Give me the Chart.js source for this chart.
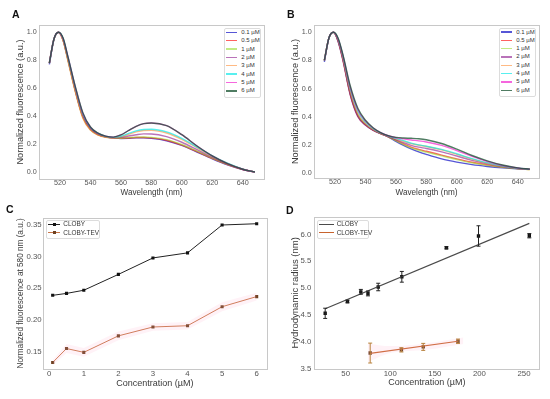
<!DOCTYPE html>
<html>
<head>
<meta charset="utf-8">
<script src="https://cdn.jsdelivr.net/npm/chart.js@4.4.0/dist/chart.umd.min.js"></script>
<style>
body { margin: 0; background: #fff; width: 550px; height: 399px; overflow: hidden; position: relative; font-family: 'Liberation Sans', Arial, sans-serif; }
canvas { position: absolute; }
.lab { position: absolute; font-weight: bold; font-size: 10.5px; line-height: 10px; color: #111; }
.leg { position: absolute; background: #fff; border: 1px solid #dcdcdc; border-radius: 2px; box-sizing: border-box; }
</style>
</head>
<body>
<canvas id="cA" width="275" height="200" style="left:0;top:0"></canvas>
<canvas id="cB" width="275" height="200" style="left:275px;top:0"></canvas>
<canvas id="cC" width="275" height="204" style="left:0;top:195px"></canvas>
<canvas id="cD" width="275" height="204" style="left:275px;top:195px"></canvas>
<div class="lab" style="left:12px;top:8.8px">A</div>
<div class="lab" style="left:287px;top:8.8px">B</div>
<div class="lab" style="left:6px;top:203.8px">C</div>
<div class="lab" style="left:286px;top:204.8px">D</div>
<script>
const F = "'Liberation Sans', Arial, sans-serif";

// ---- panels A and B : normalised emission spectra
const wavelengths = [513, 516, 519, 522, 525, 530, 535, 540, 545, 550, 555, 560, 565, 570, 575, 580, 590, 600, 610, 620, 630, 640, 648];
const concLabels = ['0.1 µM', '0.5 µM', '1 µM', '2 µM', '3 µM', '4 µM', '5 µM', '6 µM'];
const concColors = ['rgba(30,30,200,0.75)', 'rgba(255,30,30,0.7)', 'rgba(154,220,50,0.6)', 'rgba(128,0,128,0.55)',
                    'rgba(255,140,50,0.6)', 'rgba(0,230,230,0.65)', 'rgba(240,0,200,0.6)', 'rgba(20,80,45,0.75)'];

// A : CLOBY
const specA_01 = [0.77, 0.95, 1.00, 0.945, 0.815, 0.585, 0.395, 0.305, 0.268, 0.251, 0.244, 0.240, 0.241, 0.244, 0.244, 0.241, 0.224, 0.190, 0.143, 0.095, 0.052, 0.018, 0.0];
const specA_05 = [0.78, 0.95, 1.00, 0.945, 0.815, 0.585, 0.395, 0.305, 0.268, 0.251, 0.244, 0.241, 0.243, 0.247, 0.247, 0.244, 0.227, 0.193, 0.146, 0.097, 0.053, 0.018, 0.0];
const specA_1  = [0.78, 0.95, 1.00, 0.945, 0.810, 0.580, 0.390, 0.302, 0.266, 0.250, 0.244, 0.242, 0.246, 0.250, 0.251, 0.248, 0.232, 0.197, 0.149, 0.099, 0.054, 0.019, 0.0];
const specA_2  = [0.78, 0.95, 1.00, 0.950, 0.820, 0.590, 0.400, 0.308, 0.270, 0.252, 0.246, 0.248, 0.258, 0.267, 0.273, 0.272, 0.253, 0.213, 0.160, 0.106, 0.058, 0.020, 0.0];
const specA_3  = [0.78, 0.95, 1.00, 0.940, 0.805, 0.575, 0.385, 0.300, 0.264, 0.249, 0.245, 0.252, 0.270, 0.287, 0.297, 0.298, 0.279, 0.234, 0.173, 0.113, 0.061, 0.021, 0.0];
const specA_4  = [0.78, 0.95, 1.00, 0.955, 0.830, 0.605, 0.415, 0.318, 0.276, 0.255, 0.248, 0.256, 0.276, 0.294, 0.304, 0.306, 0.287, 0.241, 0.178, 0.116, 0.063, 0.021, 0.0];
const specA_5  = [0.78, 0.95, 1.00, 0.955, 0.835, 0.610, 0.420, 0.320, 0.277, 0.257, 0.250, 0.265, 0.297, 0.327, 0.346, 0.351, 0.332, 0.267, 0.186, 0.115, 0.060, 0.020, 0.0];
const specA_6  = [0.78, 0.95, 1.00, 0.960, 0.835, 0.615, 0.425, 0.322, 0.278, 0.257, 0.250, 0.265, 0.297, 0.327, 0.346, 0.351, 0.332, 0.267, 0.186, 0.115, 0.060, 0.020, 0.0];

// B : CLOBY-TEV
const specB_01 = [0.79, 0.96, 1.00, 0.940, 0.820, 0.565, 0.410, 0.345, 0.305, 0.280, 0.257, 0.225, 0.197, 0.172, 0.151, 0.133, 0.101, 0.078, 0.060, 0.047, 0.037, 0.030, 0.026];
const specB_05 = [0.80, 0.96, 1.00, 0.940, 0.815, 0.560, 0.405, 0.343, 0.305, 0.280, 0.258, 0.232, 0.207, 0.184, 0.168, 0.155, 0.128, 0.101, 0.077, 0.058, 0.043, 0.032, 0.026];
const specB_1  = [0.80, 0.96, 1.00, 0.940, 0.820, 0.565, 0.410, 0.345, 0.306, 0.281, 0.258, 0.230, 0.203, 0.179, 0.162, 0.149, 0.122, 0.096, 0.073, 0.055, 0.041, 0.031, 0.025];
const specB_2  = [0.80, 0.96, 1.00, 0.935, 0.810, 0.555, 0.400, 0.340, 0.305, 0.281, 0.260, 0.238, 0.216, 0.197, 0.184, 0.175, 0.151, 0.121, 0.090, 0.065, 0.046, 0.033, 0.026];
const specB_3  = [0.80, 0.96, 1.00, 0.950, 0.830, 0.585, 0.425, 0.353, 0.310, 0.283, 0.262, 0.244, 0.225, 0.209, 0.198, 0.189, 0.165, 0.133, 0.099, 0.070, 0.048, 0.033, 0.025];
const specB_4  = [0.80, 0.96, 1.00, 0.955, 0.840, 0.600, 0.440, 0.362, 0.315, 0.285, 0.263, 0.247, 0.230, 0.213, 0.200, 0.191, 0.168, 0.137, 0.103, 0.073, 0.050, 0.034, 0.026];
const specB_5  = [0.80, 0.96, 1.00, 0.955, 0.845, 0.610, 0.450, 0.370, 0.320, 0.287, 0.265, 0.252, 0.243, 0.235, 0.229, 0.221, 0.197, 0.160, 0.118, 0.082, 0.054, 0.036, 0.027];
const specB_6  = [0.80, 0.96, 1.00, 0.960, 0.850, 0.620, 0.460, 0.375, 0.322, 0.288, 0.266, 0.254, 0.249, 0.247, 0.244, 0.237, 0.210, 0.170, 0.125, 0.087, 0.057, 0.037, 0.028];

const wlTicks = [520, 540, 560, 580, 600, 620, 640];
const fluoTicks = [0.0, 0.2, 0.4, 0.6, 0.8, 1.0];

// ---- panel C : fluorescence at 580 nm vs concentration
const concC = [0.1, 0.5, 1, 2, 3, 4, 5, 6];
const clobyC = [0.239, 0.242, 0.247, 0.272, 0.298, 0.306, 0.350, 0.352];
const tevC = [0.133, 0.155, 0.149, 0.175, 0.189, 0.191, 0.221, 0.237];
const tevSpreadC = [0.004, 0.007, 0.007, 0.007, 0.006, 0.006, 0.007, 0.006];
const concTicksC = [0, 1, 2, 3, 4, 5, 6];
const fluoTicksC = [0.15, 0.20, 0.25, 0.30, 0.35];

// ---- panel D : hydrodynamic radius vs concentration
const clobyDx = [27, 52, 67, 75, 86.5, 113, 163, 199, 256];
const clobyDy = [4.53, 4.75, 4.93, 4.90, 5.02, 5.21, 5.75, 5.97, 5.975];
const clobyDerr = [0.095, 0.025, 0.045, 0.045, 0.07, 0.10, 0.02, 0.19, 0.04];
const clobyFitX = [27, 256];
const clobyFitY = [4.615, 6.205];
const tevDx = [77.5, 112.5, 137, 176];
const tevDy = [3.79, 3.85, 3.905, 4.01];
const tevDerr = [0.185, 0.04, 0.065, 0.04];
const tevFitX = [77.5, 176];
const tevFitY = [3.785, 4.01];
const tevBandX = [75, 100, 140, 182];
const tevBandHi = [3.97, 3.92, 3.97, 4.08];
const tevBandLo = [3.62, 3.79, 3.85, 3.96];
const concTicksD = [50, 100, 150, 200, 250];
const radiusTicks = [3.5, 4.0, 4.5, 5.0, 5.5, 6.0];

const pts = (xs, ys) => xs.map((x, i) => ({ x: x, y: ys[i] }));

const frame = {
  id: 'frame',
  afterDraw(c) {
    const a = c.chartArea, g = c.ctx;
    g.save();
    g.strokeStyle = '#c8c8c8';
    g.lineWidth = 1;
    g.strokeRect(Math.round(a.left) + 0.5, Math.round(a.top) + 0.5, Math.round(a.right - a.left), Math.round(a.bottom - a.top));
    g.restore();
  }
};

const errorBars = {
  id: 'errorBars',
  afterDatasetsDraw(c) {
    const g = c.ctx, xs = c.scales.x, ys = c.scales.y;
    c.data.datasets.forEach(ds => {
      if (!ds.errors) return;
      g.save();
      g.strokeStyle = ds.errorColor;
      g.lineWidth = 1;
      ds.data.forEach((p, j) => {
        const e = ds.errors[j];
        const px = xs.getPixelForValue(p.x);
        const t = ys.getPixelForValue(p.y + e), b = ys.getPixelForValue(p.y - e);
        g.beginPath();
        g.moveTo(px, t); g.lineTo(px, b);
        g.moveTo(px - 2, t); g.lineTo(px + 2, t);
        g.moveTo(px - 2, b); g.lineTo(px + 2, b);
        g.stroke();
      });
      g.restore();
    });
  }
};
Chart.register(frame, errorBars);

function panel(id, datasets, ax) {
  return new Chart(document.getElementById(id), {
    type: 'line',
    data: { datasets: datasets },
    options: {
      responsive: false,
      animation: false,
      devicePixelRatio: 1,
      layout: { padding: { left: 0, top: ax.top, right: ax.right, bottom: 0 } },
      plugins: { legend: { display: false }, tooltip: { enabled: false } },
      scales: {
        x: {
          type: 'linear', min: ax.xmin, max: ax.xmax,
          grid: { display: false, drawTicks: false }, border: { display: false },
          afterBuildTicks: s => { s.ticks = ax.xticks.map(v => ({ value: v })); },
          afterFit: s => { s.height = ax.xh; },
          ticks: { autoSkip: false, maxRotation: 0, padding: ax.xtp, color: '#555', font: { family: F, size: ax.tick }, callback: ax.xfmt },
          title: { display: true, text: ax.xtitle, color: '#3a3a3a', font: { family: F, size: ax.xfs }, padding: { top: 0, bottom: ax.xpb } }
        },
        y: {
          type: 'linear', min: ax.ymin, max: ax.ymax,
          grid: { display: false, drawTicks: false }, border: { display: false },
          afterBuildTicks: s => { s.ticks = ax.yticks.map(v => ({ value: v })); },
          afterFit: s => { s.width = ax.yw; },
          ticks: { autoSkip: false, padding: ax.ytp, color: '#555', font: { family: F, size: ax.tick }, callback: ax.yfmt },
          title: { display: true, text: ax.ytitle, color: '#3a3a3a', font: { family: F, size: ax.yfs }, padding: { top: ax.ypt, bottom: 0 } }
        }
      }
    }
  });
}

// later series drawn on top, like the original plot
function spectra(series) {
  return series.map((vals, i) => ({
    data: pts(wavelengths, vals),
    borderColor: concColors[i],
    borderWidth: 1.4,
    pointRadius: 0,
    cubicInterpolationMode: 'monotone',
    fill: false,
    order: series.length - i
  }));
}

const specAxes = {
  top: 25, right: 11, xmin: 506.2, xmax: 654, xticks: wlTicks, xh: 21, xtp: 0, tick: 7.2,
  xfmt: v => String(v), xtitle: 'Wavelength (nm)', xfs: 8.2, xpb: 2.8,
  yticks: fluoTicks, yw: 39, ytp: 2.3, yfmt: v => v.toFixed(1),
  ytitle: 'Normalized fluorescence (a.u.)', yfs: 9.2, ypt: 14.5
};

panel('cA', spectra([specA_01, specA_05, specA_1, specA_2, specA_3, specA_4, specA_5, specA_6]),
  Object.assign({}, specAxes, { ymin: -0.05, ymax: 1.052 }));
panel('cB', spectra([specB_01, specB_05, specB_1, specB_2, specB_3, specB_4, specB_5, specB_6]),
  Object.assign({}, specAxes, { ymin: -0.035, ymax: 1.052, xh: 22, ypt: 15.2 }));

panel('cC', [
  { data: pts(concC, tevC.map((v, i) => v + tevSpreadC[i])), borderWidth: 0, pointRadius: 0, fill: false },
  { data: pts(concC, tevC.map((v, i) => v - tevSpreadC[i])), borderWidth: 0, pointRadius: 0, fill: '-1', backgroundColor: 'rgba(255,170,200,0.15)' },
  { data: pts(concC, clobyC), borderColor: '#222', borderWidth: 1, pointStyle: 'rect', pointRadius: 2.2, pointBorderWidth: 0, pointBackgroundColor: '#111', fill: false },
  { data: pts(concC, tevC), borderColor: '#c8764a', borderWidth: 1, pointStyle: 'rect', pointRadius: 2.2, pointBorderWidth: 0, pointBackgroundColor: '#6e4020', fill: false }
], {
  top: 22.7, right: 8.3, xmin: -0.18, xmax: 6.29, xticks: concTicksC, xh: 30, xtp: 0, tick: 7.8,
  xfmt: v => String(v), xtitle: 'Concentration (µM)', xfs: 9, xpb: 10.3,
  ymin: 0.1227, ymax: 0.3615, yticks: fluoTicksC, yw: 43, ytp: 1.3, yfmt: v => v.toFixed(2),
  ytitle: 'Normalized fluorescence at 580 nm (a.u.)', yfs: 8.2, ypt: 15.7
});

panel('cD', [
  { data: pts(tevBandX, tevBandHi), borderWidth: 0, pointRadius: 0, fill: false, tension: 0.3 },
  { data: pts(tevBandX, tevBandLo), borderWidth: 0, pointRadius: 0, fill: '-1', tension: 0.3, backgroundColor: 'rgba(255,170,200,0.15)' },
  { data: pts(clobyFitX, clobyFitY), borderColor: '#4a4a4a', borderWidth: 1.2, pointRadius: 0, fill: false },
  { data: pts(clobyDx, clobyDy), showLine: false, pointStyle: 'rect', pointRadius: 2.4, pointBorderWidth: 0, pointBackgroundColor: '#111', errors: clobyDerr, errorColor: '#222' },
  { data: pts(tevFitX, tevFitY), borderColor: '#c8642e', borderWidth: 1.2, pointRadius: 0, fill: false },
  { data: pts(tevDx, tevDy), showLine: false, pointStyle: 'rect', pointRadius: 2.4, pointBorderWidth: 0, pointBackgroundColor: '#5a3418', errors: tevDerr, errorColor: '#b8803a' }
], {
  top: 21.7, right: 10.7, xmin: 14.8, xmax: 267.2, xticks: concTicksD, xh: 30, xtp: 0, tick: 7.8,
  xfmt: v => String(v), xtitle: 'Concentration (µM)', xfs: 9, xpb: 11,
  ymin: 3.493, ymax: 6.329, yticks: radiusTicks, yw: 39.3, ytp: 3, yfmt: v => v.toFixed(1),
  ytitle: 'Hydrodynamic radius (nm)', yfs: 9.5, ypt: 15
});

// ---- legends (html text)
function legend(box, labels, colors, marker) {
  const d = document.createElement('div');
  d.className = 'leg';
  Object.assign(d.style, { left: box.x + 'px', top: box.y + 'px', width: box.w + 'px', height: box.h + 'px' });
  document.body.appendChild(d);
  labels.forEach((lab, i) => {
    const cy = box.y0 + i * box.dy;
    const ln = document.createElement('div');
    Object.assign(ln.style, { position: 'absolute', left: box.lx + 'px', top: (cy - 0.7) + 'px', width: box.lw + 'px', height: '1.4px', background: colors[i] });
    document.body.appendChild(ln);
    if (marker) {
      const m = document.createElement('div');
      Object.assign(m.style, { position: 'absolute', left: (box.lx + box.lw / 2 - 1.5) + 'px', top: (cy - 1.5) + 'px', width: '3px', height: '3px', background: marker[i] });
      document.body.appendChild(m);
    }
    const t = document.createElement('div');
    t.textContent = lab;
    Object.assign(t.style, { position: 'absolute', left: box.tx + 'px', top: (cy - box.fs * 0.6) + 'px', fontSize: box.fs + 'px', lineHeight: (box.fs * 1.2) + 'px', color: '#333', whiteSpace: 'nowrap' });
    document.body.appendChild(t);
  });
}

legend({ x: 224, y: 28, w: 37, h: 70, y0: 32.4, dy: 8.35, lx: 226, lw: 11.3, tx: 241.2, fs: 6 }, concLabels, concColors);
legend({ x: 499, y: 27.7, w: 37, h: 69.5, y0: 32.1, dy: 8.3, lx: 501, lw: 11.3, tx: 516.2, fs: 6 }, concLabels, concColors);
legend({ x: 46, y: 220, w: 54, h: 18.5, y0: 224.3, dy: 8.4, lx: 48, lw: 12, tx: 63.3, fs: 6.4 }, ['CLOBY', 'CLOBY-TEV'], ['#222', '#c8764a'], ['#111', '#6e4020']);
legend({ x: 316.7, y: 220, w: 52.5, h: 18.5, y0: 224.3, dy: 8.4, lx: 319.3, lw: 14.7, tx: 336.7, fs: 6.4 }, ['CLOBY', 'CLOBY-TEV'], ['#4a4a4a', '#c8642e']);
</script>
</body>
</html>
